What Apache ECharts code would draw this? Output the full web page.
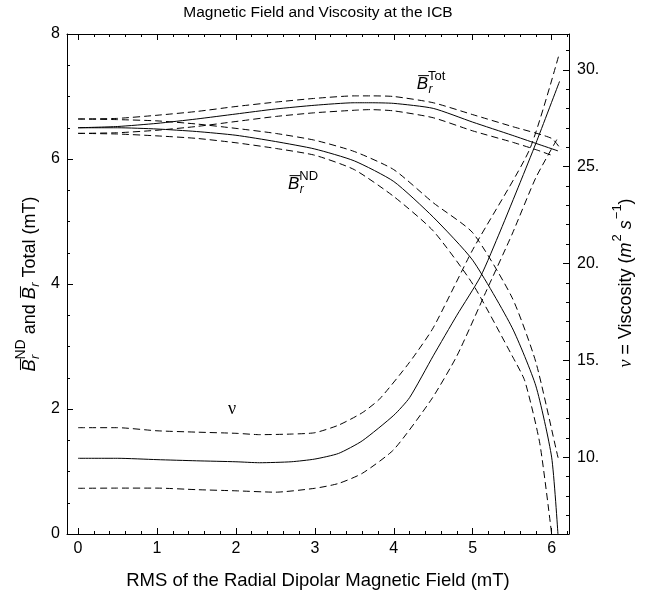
<!DOCTYPE html>
<html><head><meta charset="utf-8">
<script src="https://cdn.jsdelivr.net/npm/echarts@6/dist/echarts.min.js"></script>
<style>html,body{margin:0;padding:0;background:#fff}#c{width:658px;height:595px}</style>
</head><body><div id="c"></div>
<script>
const FONT = '"Liberation Sans", Arial, Helvetica, sans-serif';
const SERIF = '"Liberation Serif", "Times New Roman", serif';

// ---------- data ----------
// B_r^Tot (left axis, mT)
const totX      = [0, 0.5, 1, 1.5, 2, 2.5, 3, 3.5, 3.7, 4, 4.5, 5, 5.5, 5.8, 6.08];
const totMid    = [6.50, 6.52, 6.57, 6.64, 6.72, 6.80, 6.86, 6.90, 6.90, 6.89, 6.81, 6.59, 6.38, 6.25, 6.13];
const totUpX    = [0, 0.5, 1, 1.5, 2, 2.5, 3, 3.5, 3.7, 4, 4.5, 5, 5.5, 6.0, 6.12];
const totUp     = [6.64, 6.65, 6.70, 6.76, 6.84, 6.91, 6.97, 7.01, 7.01, 7.00, 6.90, 6.71, 6.52, 6.33, 6.15];
const totLoX    = [0, 0.5, 1, 1.5, 2, 2.5, 3, 3.5, 3.7, 4, 4.5, 5, 5.5, 5.8, 6.02];
const totLo     = [6.41, 6.42, 6.46, 6.52, 6.60, 6.68, 6.74, 6.78, 6.79, 6.77, 6.66, 6.45, 6.27, 6.15, 6.05];
// B_r^ND (left axis, mT)
const ndX       = [0, 0.5, 1, 1.5, 2, 2.5, 3, 3.5, 4, 4.5, 5, 5.5, 5.8, 6.0, 6.08];
const ndMid     = [6.50, 6.50, 6.48, 6.44, 6.38, 6.28, 6.16, 5.97, 5.64, 5.07, 4.38, 3.30, 2.37, 1.23, 0];
const ndUpX     = [0, 0.5, 1, 1.5, 2, 2.5, 3, 3.5, 4, 4.5, 5, 5.5, 5.8, 6.08, 6.1];
const ndUp      = [6.64, 6.63, 6.61, 6.56, 6.49, 6.41, 6.30, 6.12, 5.83, 5.30, 4.82, 3.78, 2.75, 1.23, 1.17];
const ndLoX     = [0, 0.5, 1, 1.5, 2, 2.5, 3, 3.5, 4, 4.5, 5, 5.5, 5.66, 5.85, 6.0];
const ndLo      = [6.41, 6.40, 6.37, 6.33, 6.26, 6.17, 6.06, 5.83, 5.40, 4.85, 4.00, 2.85, 2.45, 1.45, 0];
// viscosity nu (right axis, m^2 s^-1)
const nuX       = [0, 0.5, 1, 1.5, 2, 2.3, 2.7, 3.0, 3.3, 3.6, 4.0, 4.2, 4.5, 4.8, 5.1, 5.35, 5.6, 5.8, 6.1];
const nuMid     = [9.94, 9.94, 9.87, 9.81, 9.76, 9.71, 9.76, 9.90, 10.19, 10.84, 12.16, 13.07, 15.23, 17.33, 19.33, 21.68, 24.17, 26.20, 29.40];
const nuUpX     = [0, 0.5, 1, 1.5, 2, 2.3, 2.7, 3.0, 3.3, 3.6, 3.82, 4.2, 4.5, 5.0, 5.72, 6.1];
const nuUp      = [11.52, 11.52, 11.36, 11.29, 11.23, 11.16, 11.19, 11.26, 11.65, 12.29, 13.0, 14.9, 16.68, 20.71, 25.88, 30.88];
const nuLoX     = [0, 0.5, 1, 1.5, 2, 2.5, 3.0, 3.3, 3.6, 4.0, 4.48, 4.8, 5.18, 5.5, 5.8, 6.08];
const nuLo      = [8.39, 8.40, 8.40, 8.32, 8.26, 8.19, 8.39, 8.64, 9.16, 10.39, 13.0, 15.23, 18.65, 21.52, 24.43, 26.5];

// axes / ticks
const xMin = -0.14, xMax = 6.22;
const nuMin = 6.03, nuMax = 31.85;
const xMajor = [0, 1, 2, 3, 4, 5, 6];
const nuMajor = [10, 15, 20, 25, 30];
const xMinor = []; for (let i = 1; i <= 31; i++) if (i % 5) xMinor.push(+(i * 0.2).toFixed(1));
const nuMinor = []; for (let v = 7; v <= 31; v++) if (v % 5) nuMinor.push(v);

// annotation anchors (data coords, left axis)
const annTot = [4.29, 7.19];
const annND  = [2.66, 5.59];
const annNu  = [1.95, 2.0];

// ---------- helpers ----------
const pairs = (xs, ys) => xs.map((x, i) => [x, ys[i]]);
const BLACK = '#000';
function line(xs, ys, yIdx, dashed) {
  return { type: 'line', xAxisIndex: 0, yAxisIndex: yIdx, data: pairs(xs, ys),
    showSymbol: false, symbol: 'none', smooth: 0.2, silent: true, animation: false,
    lineStyle: { color: BLACK, width: 1, type: dashed ? [7, 4] : 'solid' } };
}
function xAx(pos, vals, len, withLabels, withLine, name) {
  const a = { type: 'value', position: pos, min: xMin, max: xMax, splitLine: { show: false },
    axisLine: { show: withLine, onZero: false, lineStyle: { color: BLACK, width: 1 } },
    axisTick: { show: true, inside: true, length: len, customValues: vals, lineStyle: { color: BLACK, width: 1 } },
    axisLabel: withLabels ? { show: true, customValues: vals, color: BLACK, fontSize: 16, fontFamily: FONT, margin: 7 } : { show: false } };
  if (name) { a.name = name; a.nameLocation = 'middle'; a.nameGap = 37;
    a.nameTextStyle = { color: BLACK, fontSize: 18.5, fontFamily: FONT }; }
  return a;
}
function nuAx(vals, len, withLabels, withLine) {
  return { type: 'value', position: 'right', min: nuMin, max: nuMax, splitLine: { show: false },
    axisLine: { show: withLine, onZero: false, lineStyle: { color: BLACK, width: 1 } },
    axisTick: { show: true, inside: true, length: len, customValues: vals, lineStyle: { color: BLACK, width: 1 } },
    axisLabel: withLabels ? { show: true, customValues: vals, color: BLACK, fontSize: 16, fontFamily: FONT, margin: 8,
      formatter: v => v + '.' } : { show: false } };
}

const mctx = document.createElement('canvas').getContext('2d');
function tw(t, font) { mctx.font = font; return mctx.measureText(t).width; }
function fstr(size, italic, fam) { return (italic ? 'italic ' : '') + size + 'px ' + (fam || FONT); }
function textEl(t, x, y, font) {
  return { type: 'text', x: x, y: y, silent: true,
    style: { text: t, font: font, fill: BLACK, align: 'left', verticalAlign: 'middle', textAlign: 'left', textVerticalAlign: 'middle' } };
}
function buildRow(pieces) {
  const els = []; let x = 0;
  pieces.forEach(p => {
    if (p.stack) {
      let w = 0;
      p.stack.forEach(q => {
        const f = fstr(q.size, q.italic, q.fam);
        els.push(textEl(q.t, x + (q.dx || 0), q.dy || 0, f));
        w = Math.max(w, tw(q.t, f) + (q.dx || 0));
      });
      x += w;
    } else {
      const f = fstr(p.size, p.italic, p.fam);
      const w = tw(p.t, f);
      els.push(textEl(p.t, x, p.dy || 0, f));
      if (p.over) els.push({ type: 'line', silent: true,
        shape: { x1: x + p.over[0], y1: p.over[2], x2: x + w + p.over[1], y2: p.over[2] },
        style: { stroke: BLACK, lineWidth: 1 } });
      x += w;
    }
  });
  return { els, width: x };
}
function shifted(row, dx) { row.els.forEach(e => { if (e.type === 'line') { e.shape.x1 += dx; e.shape.x2 += dx; } else e.x += dx; }); return row.els; }

function bWith(sup, sub, size) {
  const s = size || 17, k = s / 17;
  const st = [];
  if (sub) st.push({ t: 'r', size: Math.round(12 * k), italic: true, dy: 5.5 * k, dx: 0.5 });
  if (sup) st.push({ t: sup, size: Math.round(13 * k), dy: -8 * k });
  return [{ t: 'B', size: s, italic: true, over: [1.5, 1.0, -9 * k] }, { stack: st }];
}

// ---------- chart ----------
const chart = echarts.init(document.getElementById('c'), null, { renderer: 'canvas' });
chart.setOption({
  animation: false,
  backgroundColor: '#fff',
  grid: { left: 67, right: 89, top: 34, bottom: 60, containLabel: false },
  xAxis: [
    xAx('bottom', xMajor, 6, true, true, 'RMS of the Radial Dipolar Magnetic Field (mT)'),
    xAx('bottom', xMinor, 3, false, false),
    xAx('top', xMajor, 6, false, true),
    xAx('top', xMinor, 3, false, false)
  ],
  yAxis: [
    { type: 'value', position: 'left', min: 0, max: 8, interval: 2, splitLine: { show: false },
      axisLine: { show: true, onZero: false, lineStyle: { color: BLACK, width: 1 } },
      axisTick: { show: true, inside: true, length: 6, lineStyle: { color: BLACK } },
      minorTick: { show: true, splitNumber: 4, length: 3, lineStyle: { color: BLACK } },
      axisLabel: { color: BLACK, fontSize: 16, fontFamily: FONT, margin: 7 } },
    nuAx(nuMajor, 6, true, true),
    nuAx(nuMinor, 3, false, false)
  ],
  series: [
    line(totX, totMid, 0, false), line(totUpX, totUp, 0, true), line(totLoX, totLo, 0, true),
    line(ndX, ndMid, 0, false), line(ndUpX, ndUp, 0, true), line(ndLoX, ndLo, 0, true),
    line(nuX, nuMid, 1, false), line(nuUpX, nuUp, 1, true), line(nuLoX, nuLo, 1, true)
  ]
});

// ---------- text / labels ----------
const P = d => chart.convertToPixel({ xAxisIndex: 0, yAxisIndex: 0 }, d);
const g = [];
g.push({ type: 'text', x: 318, y: 13, silent: true,
  style: { text: 'Magnetic Field and Viscosity at the ICB', font: fstr(15.5, false), fill: BLACK,
    align: 'center', verticalAlign: 'middle', textAlign: 'center', textVerticalAlign: 'middle' } });

const leftRow = buildRow([].concat(
  bWith('ND', true, 18),
  [{ t: ' and ', size: 18 }],
  bWith(null, true, 18),
  [{ t: ' Total (mT)', size: 18 }]
));
g.push({ type: 'group', x: 30, y: 284, rotation: Math.PI / 2, children: shifted(leftRow, -leftRow.width / 2) });

const rightRow = buildRow([
  { t: 'ν', size: 18, italic: true, fam: SERIF },
  { t: ' = Viscosity (', size: 18 },
  { t: 'm', size: 18, italic: true },
  { stack: [{ t: '2', size: 13, dy: -8.5, dx: 1 }] },
  { t: ' ', size: 18 },
  { t: 's', size: 18, italic: true },
  { stack: [{ t: '−1', size: 13, dy: -8.5, dx: 1 }] },
  { t: ')', size: 18 }
]);
g.push({ type: 'group', x: 626, y: 283, rotation: Math.PI / 2, children: shifted(rightRow, -rightRow.width / 2) });

const pT = P(annTot);
g.push({ type: 'group', x: pT[0], y: pT[1], children: buildRow(bWith('Tot', true)).els });
const pN = P(annND);
g.push({ type: 'group', x: pN[0], y: pN[1], children: buildRow(bWith('ND', true)).els });
const pV = P(annNu);
g.push({ type: 'text', x: pV[0], y: pV[1], silent: true,
  style: { text: 'ν', font: fstr(18, false, SERIF), fill: BLACK, align: 'center', verticalAlign: 'middle', textAlign: 'center', textVerticalAlign: 'middle' } });

chart.setOption({ graphic: { elements: g } });
</script>
</body></html>
